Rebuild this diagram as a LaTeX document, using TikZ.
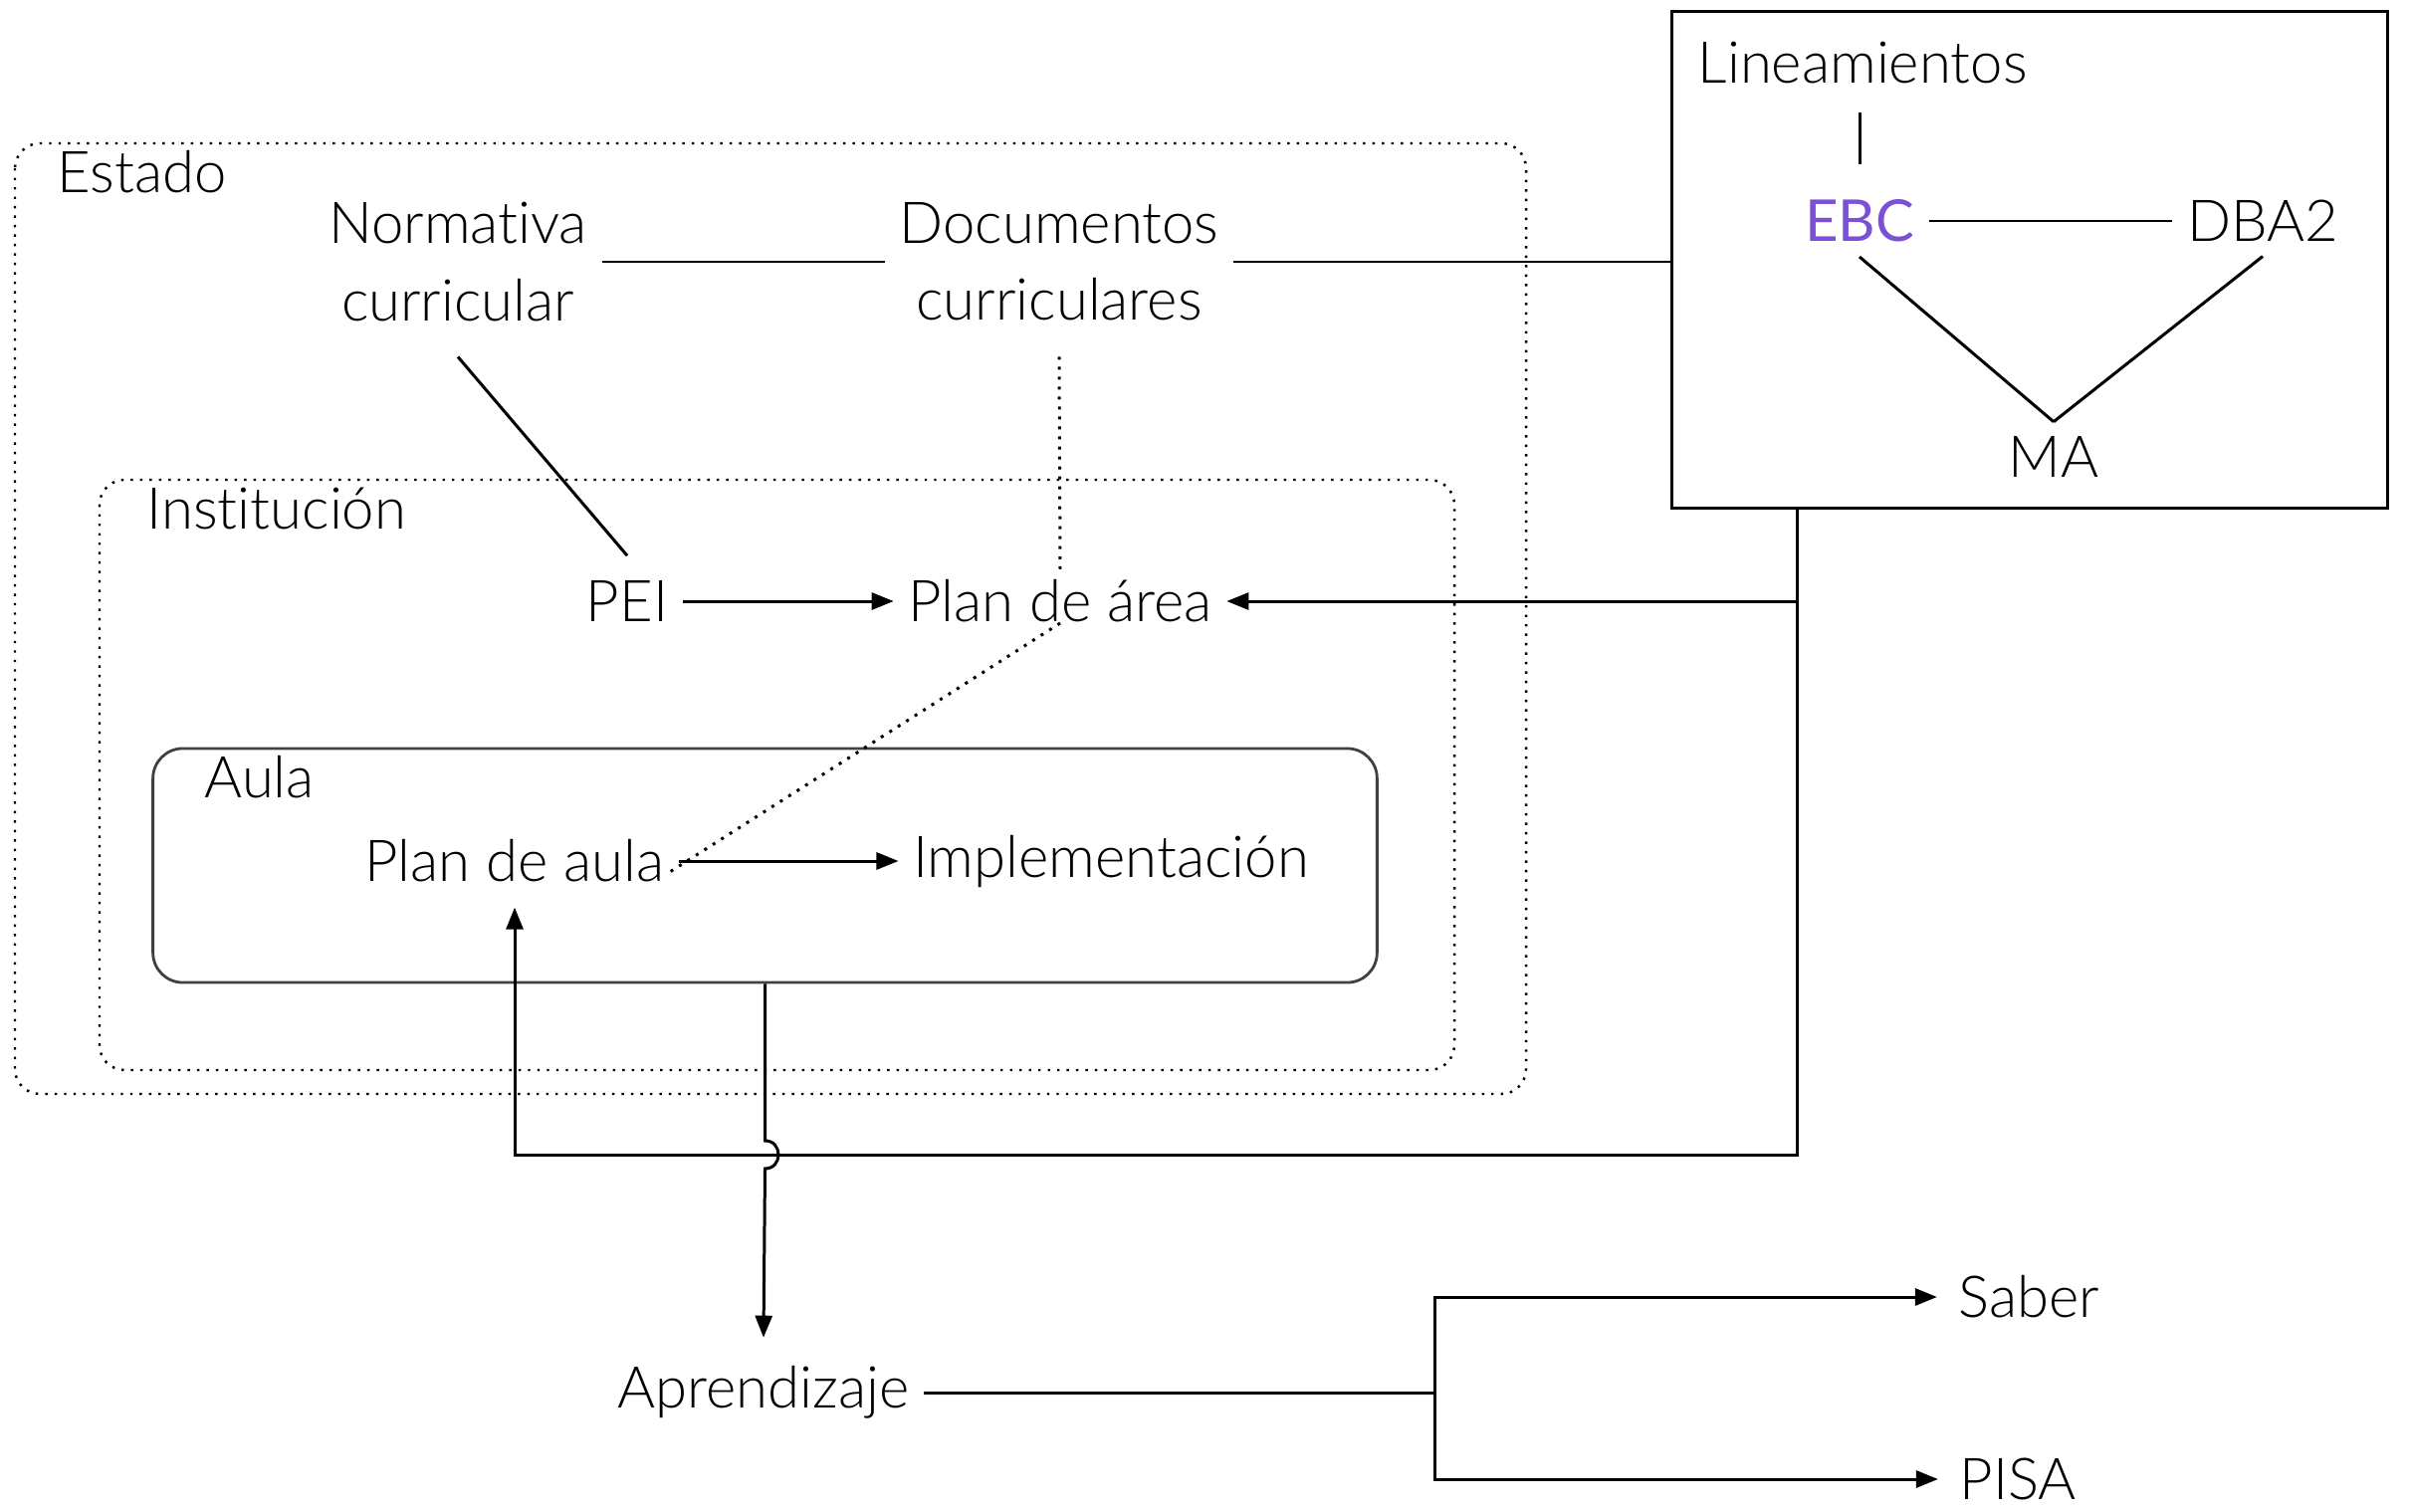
\documentclass[tikz,border=0pt]{standalone}
\usepackage{fontspec}
\setmainfont{Lato}[UprightFont=* Light, BoldFont=* Regular, Ligatures=NoCommon]
\usetikzlibrary{arrows.meta,positioning,calc}

\definecolor{ebcpurple}{RGB}{122,80,212}

\begin{document}
\begin{tikzpicture}[
  x=0.01cm, y=-0.01cm,
  every node/.style={font=\fontsize{16.5}{22}\selectfont, inner sep=4pt},
  lbl/.style={align=center},
  tag/.style={anchor=west, inner sep=0pt},
  link/.style={line width=0.85pt},
  arrow/.style={-{Triangle[length=2.2mm, width=1.7mm]}, line width=0.85pt},
  zone/.style={draw, dotted, line width=0.7pt, rounded corners=2.5mm},
  room/.style={draw=black!75, line width=0.8pt, rounded corners=3mm}
]
\useasboundingbox (0,0) rectangle (2421,1518);

% nested contexts
\draw[zone] (15,144) rectangle (1533,1099);
\draw[zone] (100,482) rectangle (1461,1075);
\node[room, minimum width=12.29cm, minimum height=2.35cm] (aula) at (768.5,869.5) {};
\node[tag] (estado) at (57,173) {Estado};
\node[tag] (inst) at (147,511) {Institución};
\node[tag] (aulatag) at (205,781) {Aula};

% references box
\node[draw, line width=0.85pt, minimum width=7.18cm, minimum height=4.98cm] (refs) at (2039,261) {};
\node[tag] (lin) at (1705,63) {Lineamientos};
\node (ebc) at (1868,222) {\textcolor{ebcpurple}{\bfseries EBC}};
\node (dba) at (2273,222) {DBA2};
\node (ma) at (2063,459) {MA};
\draw[link] ([yshift=-8pt]lin.south -| ebc) -- ([yshift=6pt]ebc.north);
\draw[link] (ebc) -- (dba);
\draw[link] (ebc.south) -- (ma.north);
\draw[link] (dba.south) -- (ma.north);

% state and institution documents
\node[lbl] (norm) at (460,263) {Normativa\\curricular};
\node[lbl] (docs) at (1064,263) {Documentos\\curriculares};
\node (pei) at (630,604) {PEI};
\node (area) at (1065,604) {Plan de área};
\draw[link] (norm) -- (docs);
\draw[link] (docs) -- (refs.west |- docs);
\draw[link] ([yshift=-6pt]norm.south) -- ([yshift=3pt]pei.north);
\draw[link, dotted] ([yshift=-6pt]docs.south) -- ([yshift=-2pt]area.north);
\draw[arrow] (pei) -- (area);

% classroom
\node (plan) at (517,865) {Plan de aula};
\node (impl) at (1116,865) {Implementación};
\draw[arrow] (plan) -- (impl);
\draw[link, dotted] ([yshift=4pt]area.south) -- ([xshift=-4pt, yshift=-4pt]plan.east);

% feedback from the references
\coordinate (tap) at (1805,510);
\coordinate (low) at (0,1160);
\draw[arrow] (tap) |- (area.east);
\draw[arrow] (tap) -- (tap |- low) -| ([yshift=-3pt]plan.south);

% outcomes
\node (apr) at (767,1399) {Aprendizaje};
\node[tag] (saber) at (1967,1303) {Saber};
\node[tag] (pisa) at (1968,1486) {PISA};
\coordinate (cross) at (aula.south |- low);
\draw[arrow] (aula.south) -- ([yshift=0.14cm]cross)
  .. controls +(18,0) and +(18,0) .. ([yshift=-0.14cm]cross) -- ([yshift=4pt]apr.north);
\coordinate (fork) at (1441,1399);
\draw[link] (apr) -- (fork);
\draw[arrow] (fork) |- ([xshift=-6pt]saber.west);
\draw[arrow] (fork) |- ([xshift=-6pt]pisa.west);

\end{tikzpicture}
\end{document}
